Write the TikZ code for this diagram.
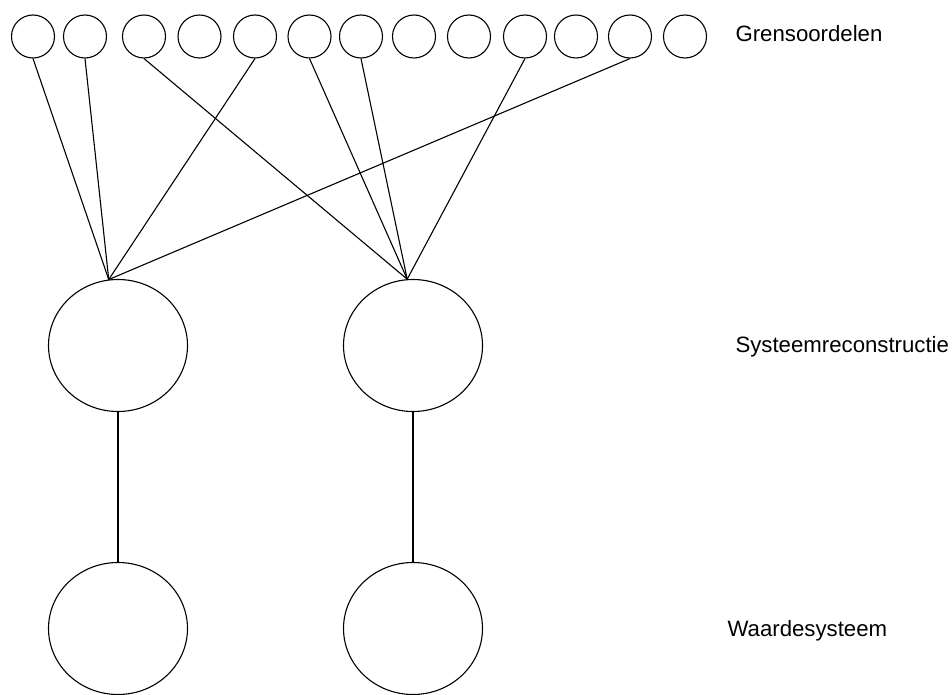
\documentclass[tikz,border=0pt]{standalone}
\usepackage{fontspec}
\setmainfont{Liberation Sans}
\usetikzlibrary{shapes.geometric, positioning}

\begin{document}
\begin{tikzpicture}[x=1pt, y=-1pt, line width=1.1pt,
  oordeel/.style={circle, draw, minimum size=43pt, inner sep=0pt},
  groot/.style={ellipse, draw, minimum width=139pt, minimum height=132pt, inner sep=0pt},
  txt/.style={anchor=base west, inner sep=0pt, font=\fontsize{22.2}{26}\selectfont}]
\useasboundingbox (0,0) rectangle (952,695);

% Top row of circles
\foreach \i/\x in {1/33, 2/85, 3/144, 4/199.5, 5/255, 6/309.5, 7/361, 8/414, 9/469, 10/525, 11/576, 12/630, 13/685}
  \node[oordeel] (g\i) at (\x,36.5) {};

% Systems and value systems
\node[groot] (s1) at (118,345.5) {};
\node[groot] (s2) at (413,345.5) {};
\node[groot] (w1) at (118,628.5) {};
\node[groot] (w2) at (413,628.5) {};

% Connections
\foreach \i in {1,2,5,12}
  \draw (g\i.south) -- (s1.98);
\foreach \i in {3,6,7,10}
  \draw (g\i.south) -- (s2.95);
\draw (s1) -- (w1);
\draw (s2) -- (w2);

% Level labels
\node[txt] (tg) at (735,41.5) {Grensoordelen};
\node[txt] (ts) at (735,352) {Systeemreconstructie};
\node[txt] (tw) at (727,636) {Waardesysteem};
\end{tikzpicture}
\end{document}
